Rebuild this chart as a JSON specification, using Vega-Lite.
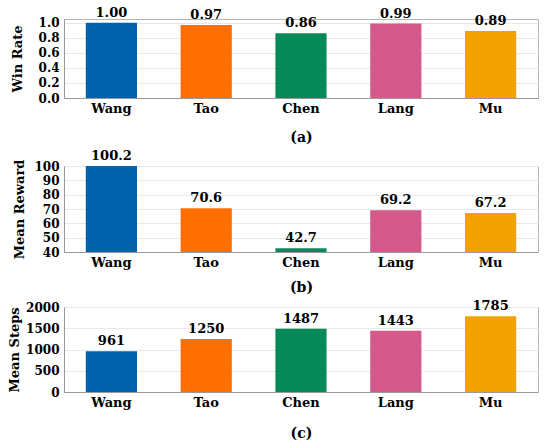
{
  "$schema": "https://vega.github.io/schema/vega-lite/v6.json",
  "padding": {"left": 8, "top": 6, "right": 8, "bottom": 0},
  "background": "white",
  "data": {
    "values": [
      {"player": "Wang", "win": 1.0, "reward": 100.2, "steps": 961},
      {"player": "Tao", "win": 0.97, "reward": 70.6, "steps": 1250},
      {"player": "Chen", "win": 0.86, "reward": 42.7, "steps": 1487},
      {"player": "Lang", "win": 0.99, "reward": 69.2, "steps": 1443},
      {"player": "Mu", "win": 0.89, "reward": 67.2, "steps": 1785}
    ]
  },
  "spacing": 4,
  "vconcat": [
    {
      "width": 474,
      "height": 79,
      "encoding": {
        "x": {
          "field": "player",
          "type": "nominal",
          "sort": null,
          "scale": {"paddingInner": 0.46, "paddingOuter": 0.23},
          "axis": {"title": "(a)", "titlePadding": 15}
        },
        "y": {
          "field": "win",
          "type": "quantitative",
          "scale": {"domain": [0, 1.05], "nice": false},
          "axis": {"title": "Win Rate", "values": [0, 0.2, 0.4, 0.6, 0.8, 1.0], "format": ".1f", "titlePadding": 14}
        }
      },
      "layer": [
        {
          "mark": {"type": "bar"},
          "encoding": {
            "color": {
              "field": "player",
              "type": "nominal",
              "sort": null,
              "scale": {
                "domain": ["Wang", "Tao", "Chen", "Lang", "Mu"],
                "range": ["#0062ab", "#ff6f00", "#07895a", "#d45a8c", "#f2a200"]
              },
              "legend": null
            }
          }
        },
        {
          "mark": {"type": "text", "baseline": "bottom", "dy": -3},
          "encoding": {
            "text": {"field": "win", "type": "quantitative", "format": ".2f"}
          }
        }
      ]
    },
    {
      "width": 474,
      "height": 86,
      "encoding": {
        "x": {
          "field": "player",
          "type": "nominal",
          "sort": null,
          "scale": {"paddingInner": 0.46, "paddingOuter": 0.23},
          "axis": {"title": "(b)", "titlePadding": 11}
        },
        "y": {
          "field": "reward",
          "type": "quantitative",
          "scale": {"domain": [40, 100], "nice": false, "zero": false},
          "axis": {"title": "Mean Reward", "values": [40, 50, 60, 70, 80, 90, 100], "titlePadding": 7}
        }
      },
      "layer": [
        {
          "mark": {"type": "bar", "clip": true},
          "encoding": {
            "color": {
              "field": "player",
              "type": "nominal",
              "sort": null,
              "scale": {
                "domain": ["Wang", "Tao", "Chen", "Lang", "Mu"],
                "range": ["#0062ab", "#ff6f00", "#07895a", "#d45a8c", "#f2a200"]
              },
              "legend": null
            }
          }
        },
        {
          "mark": {"type": "text", "baseline": "bottom", "dy": -3},
          "encoding": {
            "text": {"field": "reward", "type": "quantitative", "format": ".1f"}
          }
        }
      ]
    },
    {
      "width": 474,
      "height": 85,
      "encoding": {
        "x": {
          "field": "player",
          "type": "nominal",
          "sort": null,
          "scale": {"paddingInner": 0.46, "paddingOuter": 0.23},
          "axis": {"title": "(c)", "titlePadding": 17}
        },
        "y": {
          "field": "steps",
          "type": "quantitative",
          "scale": {"domain": [0, 2000], "nice": false},
          "axis": {"title": "Mean Steps", "values": [0, 500, 1000, 1500, 2000], "format": "d", "titlePadding": 4}
        }
      },
      "layer": [
        {
          "mark": {"type": "bar"},
          "encoding": {
            "color": {
              "field": "player",
              "type": "nominal",
              "sort": null,
              "scale": {
                "domain": ["Wang", "Tao", "Chen", "Lang", "Mu"],
                "range": ["#0062ab", "#ff6f00", "#07895a", "#d45a8c", "#f2a200"]
              },
              "legend": null
            }
          }
        },
        {
          "mark": {"type": "text", "baseline": "bottom", "dy": -3},
          "encoding": {
            "text": {"field": "steps", "type": "quantitative", "format": "d"}
          }
        }
      ]
    }
  ],
  "config": {
    "font": "DejaVu Serif",
    "view": {"stroke": "#b5b5b5"},
    "text": {"font": "DejaVu Serif", "fontSize": 13, "fontWeight": "bold", "color": "black"},
    "axis": {
      "labelFont": "DejaVu Serif",
      "titleFont": "DejaVu Serif",
      "labelFontWeight": "bold",
      "titleFontWeight": "bold",
      "labelColor": "black",
      "titleColor": "black",
      "titleFontSize": 13,
      "ticks": false,
      "labelOverlap": false,
      "domainColor": "#999999",
      "gridColor": "#e8e8e8"
    },
    "axisX": {
      "grid": false,
      "labelAngle": 0,
      "labelFontSize": 13,
      "labelPadding": 4,
      "titleFontSize": 14
    },
    "axisY": {
      "labelFontSize": 12,
      "labelPadding": 5
    }
  }
}
